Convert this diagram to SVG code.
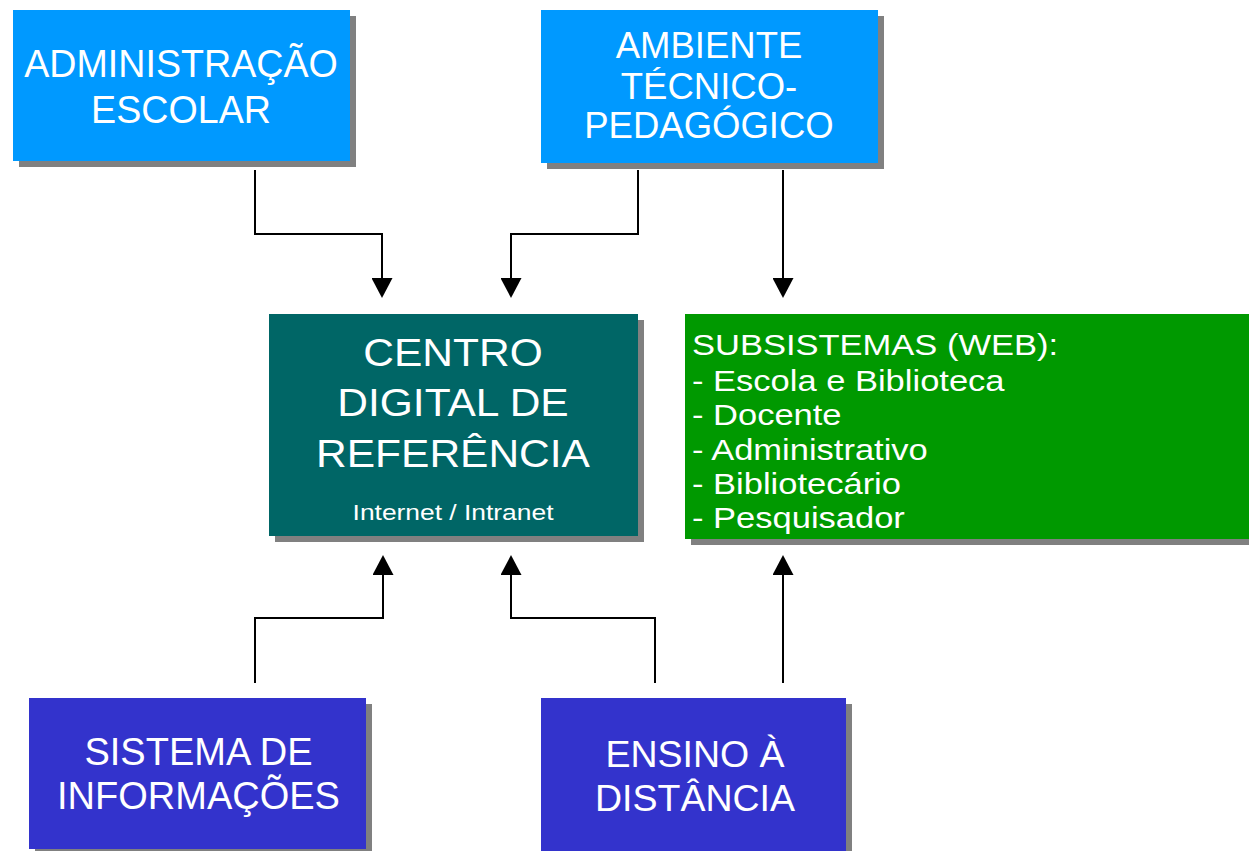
<svg xmlns="http://www.w3.org/2000/svg" width="1249" height="851" viewBox="0 0 1249 851">
<style>
.shadow{fill:#808080}
.lbl{fill:#ffffff;font-family:"Liberation Sans",Arial,sans-serif;text-anchor:middle}
.lst{fill:#ffffff;font-family:"Liberation Sans",Arial,sans-serif;text-anchor:start}
.conn{fill:none;stroke:#000000;stroke-width:2}
</style>
<defs>
<marker id="arr" viewBox="0 0 20 21" refX="0" refY="10.5" markerWidth="20" markerHeight="21" markerUnits="userSpaceOnUse" orient="auto">
<path d="M0,0 L20,10.5 L0,21 z" fill="#000000"/>
</marker>
</defs>
<rect x="0" y="0" width="1249" height="851" fill="#ffffff"/>

<g id="connectors">
<path class="conn" d="M255,170 V234 H382 V278" marker-end="url(#arr)"/>
<path class="conn" d="M638,170 V234 H511 V278" marker-end="url(#arr)"/>
<path class="conn" d="M783,170 V278" marker-end="url(#arr)"/>
<path class="conn" d="M255,683 V618 H383 V575" marker-end="url(#arr)"/>
<path class="conn" d="M655,683 V618 H511 V575" marker-end="url(#arr)"/>
<path class="conn" d="M783,683 V575" marker-end="url(#arr)"/>
</g>

<g id="administracao">
<rect class="shadow" x="19" y="16" width="337" height="151"/>
<rect x="13" y="10" width="337" height="151" fill="#0099FF"/>
<g transform="translate(181,0) scale(0.965,1)">
<text class="lbl" x="0" y="77" font-size="39">ADMINISTRAÇÃO</text>
<text class="lbl" x="0" y="123" font-size="39">ESCOLAR</text>
</g>
</g>

<g id="ambiente">
<rect class="shadow" x="547" y="16" width="337" height="153"/>
<rect x="541" y="10" width="337" height="153" fill="#0099FF"/>
<text class="lbl" x="709" y="58" font-size="36.5">AMBIENTE</text>
<text class="lbl" x="709" y="98.5" font-size="36.5">TÉCNICO-</text>
<text class="lbl" x="709" y="138" font-size="36.5">PEDAGÓGICO</text>
</g>

<g id="centro">
<rect class="shadow" x="275" y="320" width="369" height="222"/>
<rect x="269" y="314" width="369" height="222" fill="#006666"/>
<g transform="translate(453,0) scale(1.09,1)">
<text class="lbl" x="0" y="366.5" font-size="39">CENTRO</text>
<text class="lbl" x="0" y="416.5" font-size="39">DIGITAL DE</text>
<text class="lbl" x="0" y="467" font-size="39">REFERÊNCIA</text>
</g>
<g transform="translate(453,0) scale(1.2,1)">
<text class="lbl" x="0" y="520" font-size="22">Internet / Intranet</text>
</g>
</g>

<g id="subsistemas">
<rect class="shadow" x="691" y="320" width="570" height="225"/>
<rect x="685" y="314" width="570" height="225" fill="#009900"/>
<g transform="translate(692,0) scale(1.19,1)">
<text class="lst" x="0" y="355.5" font-size="29">SUBSISTEMAS (WEB):</text>
<text class="lst" x="0" y="391" font-size="29">- Escola e Biblioteca</text>
<text class="lst" x="0" y="425.5" font-size="29">- Docente</text>
<text class="lst" x="0" y="460" font-size="29">- Administrativo</text>
<text class="lst" x="0" y="494" font-size="29">- Bibliotecário</text>
<text class="lst" x="0" y="528.5" font-size="29">- Pesquisador</text>
</g>
</g>

<g id="sistema">
<rect class="shadow" x="35" y="704" width="337" height="151"/>
<rect x="29" y="698" width="337" height="151" fill="#3333CC"/>
<text class="lbl" x="198.5" y="765" font-size="38">SISTEMA DE</text>
<text class="lbl" x="198.5" y="809" font-size="38">INFORMAÇÕES</text>
</g>

<g id="ensino">
<rect class="shadow" x="547" y="704" width="305" height="151"/>
<rect x="541" y="698" width="305" height="155" fill="#3333CC"/>
<text class="lbl" x="695" y="766.5" font-size="37.5">ENSINO À</text>
<text class="lbl" x="695" y="810.5" font-size="37.5">DISTÂNCIA</text>
</g>
</svg>
